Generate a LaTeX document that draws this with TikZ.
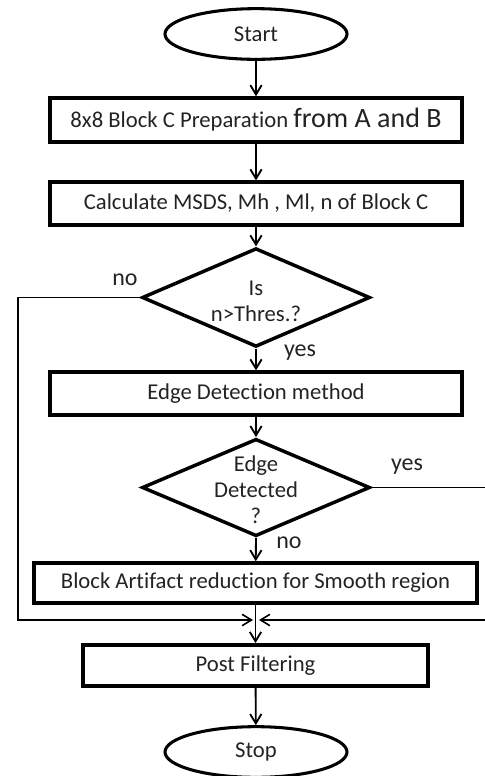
\documentclass[tikz,border=0pt]{standalone}
\usepackage{fontspec}
\setmainfont[RawFeature=-liga]{Carlito}
\usetikzlibrary{shapes.geometric,arrows.meta}
\tikzset{every picture/.style={line width=0.75pt}}
\definecolor{txtgray}{RGB}{35,35,35}
\newcommand{\fsz}{\fontsize{17}{19.5}\selectfont}
\newcommand{\lsz}{\fontsize{18}{21}\selectfont}
\newcommand{\bsz}{\fontsize{21}{24}\selectfont}
\tikzset{
  procbox/.style={draw,rectangle,line width=2.6pt,inner sep=0pt,font=\fsz,text=txtgray},
  termnode/.style={draw,ellipse,line width=2.3pt,inner sep=0pt,minimum width=136.5pt,minimum height=38pt,font=\fsz,text=txtgray},
  decision/.style={draw,diamond,line width=2.6pt,inner sep=0pt,minimum width=171pt,minimum height=74pt},
  qtext/.style={align=center,inner sep=0pt,text=txtgray},
  lbl/.style={inner sep=0pt,font=\lsz,text=txtgray},
  flowarr/.style={line width=1.4pt,-{Straight Barb[length=7pt,width=8.5pt]}},
  backarr/.style={line width=1.2pt,-{Straight Barb[length=7pt,width=8.5pt]}}
}

\begin{document}
\begin{tikzpicture}[x=0.75pt,y=0.75pt,yscale=-1,xscale=1]
\clip (0,0) rectangle (485,776);

%Shape: Ellipse [id:start]
\node[termnode] (start) at (256,34) {Start};
%Shape: Rectangle [id:prep]
\node[procbox,minimum width=309pt,minimum height=33pt] (prep) at (256,120) {8x8 Block C Preparation {\bsz from A and B}};
%Shape: Rectangle [id:calc]
\node[procbox,minimum width=309pt,minimum height=32pt] (calc) at (256,203.5) {Calculate MSDS, Mh , Ml, n of Block C};
%Shape: Diamond [id:thres]
\node[decision] (thres) at (256,297.5) {};
%Shape: Rectangle [id:edge]
\node[procbox,minimum width=309pt,minimum height=32pt] (edge) at (256,393.5) {Edge Detection method};
%Shape: Diamond [id:detect]
\node[decision,minimum height=73pt] (detect) at (256,487.5) {};
%Shape: Rectangle [id:smooth]
\node[procbox,minimum width=332pt,minimum height=30pt] (smooth) at (255.5,583) {Block Artifact reduction for Smooth region};
%Shape: Rectangle [id:post]
\node[procbox,minimum width=259pt,minimum height=31pt] (post) at (255.5,665.5) {Post Filtering};
%Shape: Ellipse [id:stop]
\node[termnode] (stop) at (256,752) {Stop};

%Joins
\coordinate (nobend) at (18,297.5);
\coordinate (nolow) at (18,620);
\coordinate (yesbend) at (492,487.5);
\coordinate (yeslow) at (492,620);
\coordinate (joinl) at (253,620);
\coordinate (joinr) at (259,620);

%Straight Lines
\draw[flowarr] (start) -- (prep);
\draw[flowarr] (prep) -- (calc);
\draw[flowarr] (calc) -- (thres.north);
\draw[flowarr] (thres.south) -- (edge);
\draw[flowarr] (edge) -- (detect.north);
\draw[flowarr] (detect.south) -- (smooth);
\draw[flowarr] (smooth) -- (post);
\draw[flowarr] (post) -- (stop);
\draw[backarr] (thres.west) -- (nobend) -- (nolow) -- (joinl);
\draw[backarr] (detect.east) -- (yesbend) -- (yeslow) -- (joinr);

% Text Node
\node[qtext,font=\fontsize{17}{19.5}\selectfont] (threstxt) at (256,301) {Is\\n>Thres.?};
% Text Node
\node[qtext,font=\fontsize{17}{19.5}\selectfont] (detecttxt) at (256,490) {Edge\\Detected\\?};
% Text Node
\node[lbl] (no1) at (125,280) {no};
% Text Node
\node[lbl] (yes1) at (300,353) {yes};
% Text Node
\node[lbl] (yes2) at (407,467) {yes};
% Text Node
\node[lbl] (no2) at (289,543) {no};

\end{tikzpicture}
\end{document}
